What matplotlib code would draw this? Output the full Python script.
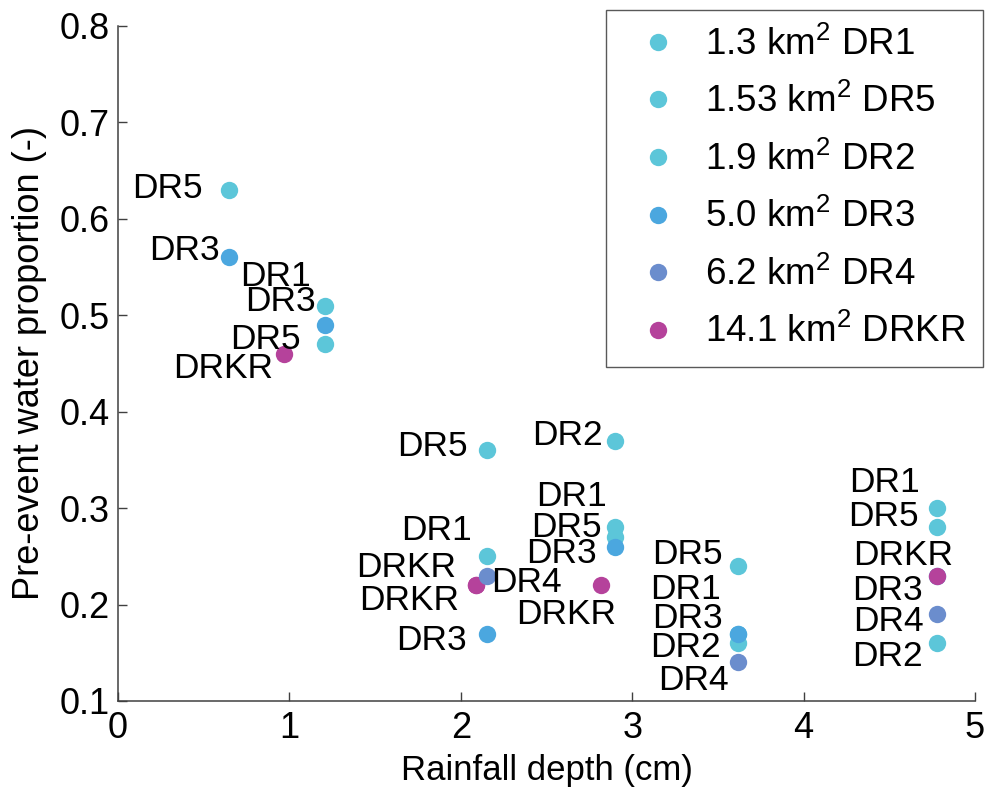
"""Pre-event water proportion vs rainfall depth for the DR catchments."""
import matplotlib
matplotlib.use('Agg')
import matplotlib.pyplot as plt
from matplotlib.lines import Line2D

plt.rcParams['font.family'] = ['Liberation Sans', 'DejaVu Sans']
plt.rcParams['mathtext.fontset'] = 'custom'
plt.rcParams['mathtext.rm'] = 'Liberation Sans'
plt.rcParams['mathtext.default'] = 'regular'

# catchment names, legend labels and colours
names = ['DR1', 'DR5', 'DR2', 'DR3', 'DR4', 'DRKR']
legend_labels = ['1.3 km$^2$ DR1', '1.53 km$^2$ DR5', '1.9 km$^2$ DR2',
                 '5.0 km$^2$ DR3', '6.2 km$^2$ DR4', '14.1 km$^2$ DRKR']
colors = ['#5cc6d9', '#5cc6d9', '#5cc6d9', '#4ba7df', '#6b8dcd', '#b5429b']

# rainfall depth (cm) and pre-event water proportion (-) per catchment
dr1_x = [1.21, 2.15, 2.90, 3.62, 4.78]
dr1_y = [0.51, 0.25, 0.28, 0.17, 0.30]
dr5_x = [0.65, 1.21, 2.15, 2.90, 3.62, 4.78]
dr5_y = [0.63, 0.47, 0.36, 0.27, 0.24, 0.28]
dr2_x = [2.90, 3.62, 4.78]
dr2_y = [0.37, 0.16, 0.16]
dr3_x = [0.65, 1.21, 2.15, 2.90, 3.62, 4.78]
dr3_y = [0.56, 0.49, 0.17, 0.26, 0.17, 0.23]
dr4_x = [2.15, 3.62, 4.78]
dr4_y = [0.23, 0.14, 0.19]
drkr_x = [0.97, 2.09, 2.09, 2.82, 4.78]
drkr_y = [0.46, 0.22, 0.22, 0.22, 0.23]

xs = [dr1_x, dr5_x, dr2_x, dr3_x, dr4_x, drkr_x]
ys = [dr1_y, dr5_y, dr2_y, dr3_y, dr4_y, drkr_y]

# label placement: (dx, dy) in pixels from the point, text right-aligned
# unless marked 'left'
label_offsets = [
    [(-15, 32), (-15, 29), (-8, 34), (-18, 47), (-17, 29)],
    [(-27, 4), (-25, 8), (-19, 7), (-13, 13), (-16, 15), (-19, 14)],
    [(-12, 8), (-18, -1), (-15, -10)],
    [(-10, 10), (-10, 26), (-20, -4), (-18, -4), (-16, 18), (-14, -12)],
    [(5, -4, 'left'), (-10, -15), (-14, -4)],
    [(-11, -12), (-20, 21), (-17, -12), (15, -26), (16, 23)],
]

# drawing order (DR4 sits on top of DRKR in the reference)
draw_order = [0, 1, 2, 3, 5, 4]

fig = plt.figure(figsize=(9.86, 7.93), dpi=100)
ax = fig.add_axes([118 / 986, 1 - 701 / 793, (975 - 118) / 986, (701 - 26) / 793])

for i in draw_order:
    ax.plot(xs[i], ys[i], 'o', ms=12.5, color=colors[i], mec='none',
            clip_on=False, zorder=3)

# point labels
for i in range(len(names)):
    for j in range(len(xs[i])):
        off = label_offsets[i][j]
        ha = off[2] if len(off) > 2 else 'right'
        ax.annotate(names[i], (xs[i][j], ys[i][j]),
                    xytext=(off[0], off[1] - 12.5), textcoords='offset pixels',
                    ha=ha, va='baseline', fontsize=25.5, zorder=4)

ax.set_xlim(0, 5)
ax.set_ylim(0.1, 0.8)
ax.set_xticks([0, 1, 2, 3, 4, 5])
ax.set_yticks([0.1, 0.2, 0.3, 0.4, 0.5, 0.6, 0.7, 0.8])
ax.set_yticklabels(['0.1', '0.2', '0.3', '0.4', '0.5', '0.6', '0.7', '0.8'])

for side in ['top', 'right']:
    ax.spines[side].set_visible(False)
for side in ['left', 'bottom']:
    ax.spines[side].set_color('#404040')
    ax.spines[side].set_linewidth(1.1)

ax.tick_params(direction='in', length=6.5, width=1.0, color='#404040',
               labelsize=26, pad=6)
ax.tick_params(axis='x', pad=7)

ax.set_xlabel('Rainfall depth (cm)', fontsize=25, labelpad=6)
ax.set_ylabel('Pre-event water proportion (-)', fontsize=26, labelpad=9)

# legend in the listed order
handles = [Line2D([], [], ls='none', marker='o', ms=12.5, color=colors[i], mec='none')
           for i in range(len(names))]
leg = fig.legend(handles, legend_labels, loc='upper right',
                 bbox_to_anchor=(983 / 986, 1 - 10 / 793), bbox_transform=fig.transFigure,
                 fontsize=26.5, frameon=True, fancybox=False, borderpad=0.45,
                 labelspacing=0.58, handlelength=1.9, handletextpad=0.35,
                 borderaxespad=0)
leg.get_frame().set_edgecolor('#303030')
leg.get_frame().set_linewidth(1.0)

fig.savefig('out.png', dpi=100)
